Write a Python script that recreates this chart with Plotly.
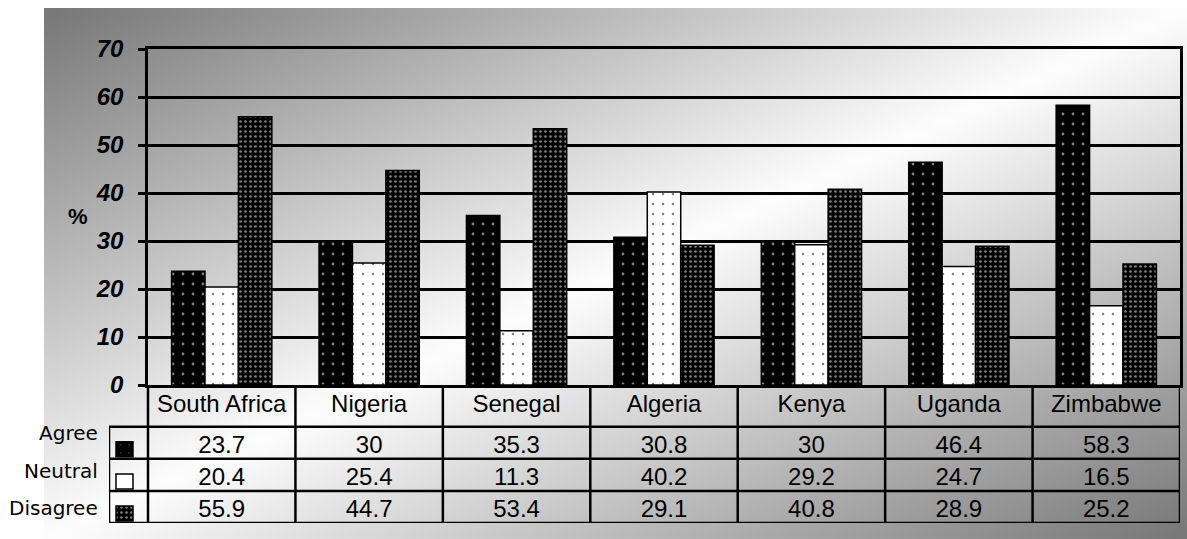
import numpy as np
import plotly.graph_objects as go

# ---------------- data ----------------
countries = ["South Africa", "Nigeria", "Senegal", "Algeria", "Kenya", "Uganda", "Zimbabwe"]
series_names = ["Agree", "Neutral", "Disagree"]
agree = [23.7, 30, 35.3, 30.8, 30, 46.4, 58.3]
neutral = [20.4, 25.4, 11.3, 40.2, 29.2, 24.7, 16.5]
disagree = [55.9, 44.7, 53.4, 29.1, 40.8, 28.9, 25.2]
y_ticks = [0, 10, 20, 30, 40, 50, 60, 70]
y_title = "%"

series_values = [agree, neutral, disagree]

# ---------------- layout geometry (pixels) ----------------
W, H = 1187, 539
plot_l, plot_r, plot_t, plot_b = 148, 1180, 49, 385
key_l = 109
table_b = 523
panel_l, panel_t = 44, 8


def fx(px):
    return px / W


def fy(py):
    return 1 - py / H


n = len(countries)
unit_px = (plot_r - plot_l) / n
key_w = (plot_l - key_l) / unit_px
header_h = 1.3
row_h = 1.0
table_total = header_h + len(series_names) * row_h
tpx = (table_b - plot_b) / table_total  # pixels per table unit

patterns = [
    dict(shape=".", bgcolor="black", fgcolor="white", size=10, solidity=0.06),
    dict(shape=".", bgcolor="white", fgcolor="black", size=10, solidity=0.05),
    dict(shape=".", bgcolor="black", fgcolor="white", size=5, solidity=0.22),
]
key_patterns = [
    dict(shape=".", bgcolor="black", fgcolor="#555555", size=8, solidity=0.05),
    dict(shape="", bgcolor="white", fgcolor="white"),
    dict(shape=".", bgcolor="black", fgcolor="white", size=5, solidity=0.22),
]
fill_colors = ["black", "white", "black"]

FONT = "Arial, Liberation Sans, sans-serif"
LW = 2.5

fig = go.Figure()

# ---------------- background gradient (decoration) ----------------
gx, gy = 80, 40
sx = (np.arange(gx) + 0.5) / gx
sy = (np.arange(gy) + 0.5) / gy  # 0 bottom -> 1 top
S, T = np.meshgrid(sx, 1 - sy)
shade = 1 - np.abs(S + T - 1)
fig.add_trace(go.Heatmap(
    x=sx, y=sy, z=shade, zsmooth="best", showscale=False, hoverinfo="skip",
    colorscale=[[0, "#767676"], [1, "#fdfdfd"]], zmin=0, zmax=1,
    xaxis="x", yaxis="y",
))

# ---------------- bars ----------------
for name, vals, pat, col in zip(series_names, series_values, patterns, fill_colors):
    fig.add_trace(go.Bar(
        x=countries, y=vals, name=name,
        marker=dict(color=col, pattern=pat, line=dict(color="black", width=1.5)),
        xaxis="x2", yaxis="y2", showlegend=False,
    ))

# ---------------- data table ----------------
fig.add_trace(go.Scatter(
    x=list(range(n)), y=[header_h / 2] * n, text=countries, mode="text",
    textfont=dict(family=FONT, size=24, color="black"),
    xaxis="x3", yaxis="y3", showlegend=False, hoverinfo="skip",
))
for r, vals in enumerate(series_values):
    yc = header_h + r * row_h + row_h / 2 + 0.12
    fig.add_trace(go.Scatter(
        x=list(range(n)), y=[yc] * n, text=[str(v) for v in vals], mode="text",
        textfont=dict(family=FONT, size=24, color="black"),
        xaxis="x3", yaxis="y3", showlegend=False, hoverinfo="skip",
    ))

# legend keys (small patterned squares)
key_cx = -0.5 - key_w / 2 - 4 / unit_px
key_wu = 17 / unit_px
for r, (pat, col) in enumerate(zip(key_patterns, fill_colors)):
    row_bottom = header_h + (r + 1) * row_h
    fig.add_trace(go.Bar(
        x=[key_cx], y=[-15 / tpx], base=[row_bottom - 2 / tpx],
        width=[key_wu], offset=-key_wu / 2,
        marker=dict(color=col, pattern=pat, line=dict(color="black", width=1.5)),
        xaxis="x3", yaxis="y3", showlegend=False, hoverinfo="skip",
    ))

shapes = []
line = dict(color="black", width=LW)
x_left_key = -0.5 - key_w
x_right = n - 0.5
for k in range(len(series_names) + 1):
    yy = header_h + k * row_h
    shapes.append(dict(type="line", xref="x3", yref="y3", x0=x_left_key, x1=x_right,
                       y0=yy, y1=yy, line=line))
for i in range(n + 1):
    xx = -0.5 + i
    shapes.append(dict(type="line", xref="x3", yref="y3", x0=xx, x1=xx,
                       y0=0, y1=table_total, line=line))
shapes.append(dict(type="line", xref="x3", yref="y3", x0=x_left_key, x1=x_left_key,
                   y0=header_h, y1=table_total, line=line))

annotations = []
label_y_px = [433, 471, 508]
for name, ypx in zip(series_names, label_y_px):
    annotations.append(dict(
        text=name, xref="paper", yref="y3", x=fx(100), y=(ypx - plot_b) / tpx,
        xanchor="right", yanchor="middle", showarrow=False,
        font=dict(family="DejaVu Sans, Verdana, sans-serif", size=20, color="black"),
    ))
annotations.append(dict(
    text=y_title, xref="paper", yref="paper", x=fx(78), y=fy(216),
    xanchor="center", yanchor="middle", showarrow=False,
    font=dict(family=FONT, size=22, color="black", weight="bold"),
))

fig.update_layout(
    width=W, height=H, margin=dict(l=0, r=0, t=0, b=0, autoexpand=False),
    paper_bgcolor="white", plot_bgcolor="rgba(0,0,0,0)",
    barmode="group", bargap=0.32, bargroupgap=0,
    showlegend=False,
    shapes=shapes, annotations=annotations,
    xaxis=dict(domain=[fx(panel_l), 1], range=[0, 1], visible=False, fixedrange=True),
    yaxis=dict(domain=[0, fy(panel_t)], range=[0, 1], visible=False, fixedrange=True),
    xaxis2=dict(domain=[fx(plot_l), fx(plot_r)], type="category", categoryarray=countries,
                range=[-0.5, n - 0.5], showticklabels=False, ticks="", showgrid=False,
                showline=True, linecolor="black", linewidth=LW, mirror=True,
                anchor="y2", zeroline=False),
    yaxis2=dict(domain=[fy(plot_b), fy(plot_t)], range=[0, 70], tickvals=y_ticks,
                ticks="outside", ticklen=7, tickwidth=LW, tickcolor="black",
                showgrid=True, gridcolor="black", gridwidth=LW,
                showline=True, linecolor="black", linewidth=LW, mirror=True,
                zeroline=False, anchor="x2", ticklabelstandoff=10,
                tickfont=dict(family=FONT, size=24, color="black", weight="bold", style="italic")),
    xaxis3=dict(domain=[fx(key_l), fx(plot_r)], range=[x_left_key, x_right], visible=False,
                anchor="y3"),
    yaxis3=dict(domain=[fy(table_b), fy(plot_b)], range=[table_total, 0], visible=False,
                anchor="x3"),
)

fig.write_html(
    "out.html",
    config={"displayModeBar": False},
    post_script="document.body.style.margin='0';document.body.style.overflow='hidden';",
)
